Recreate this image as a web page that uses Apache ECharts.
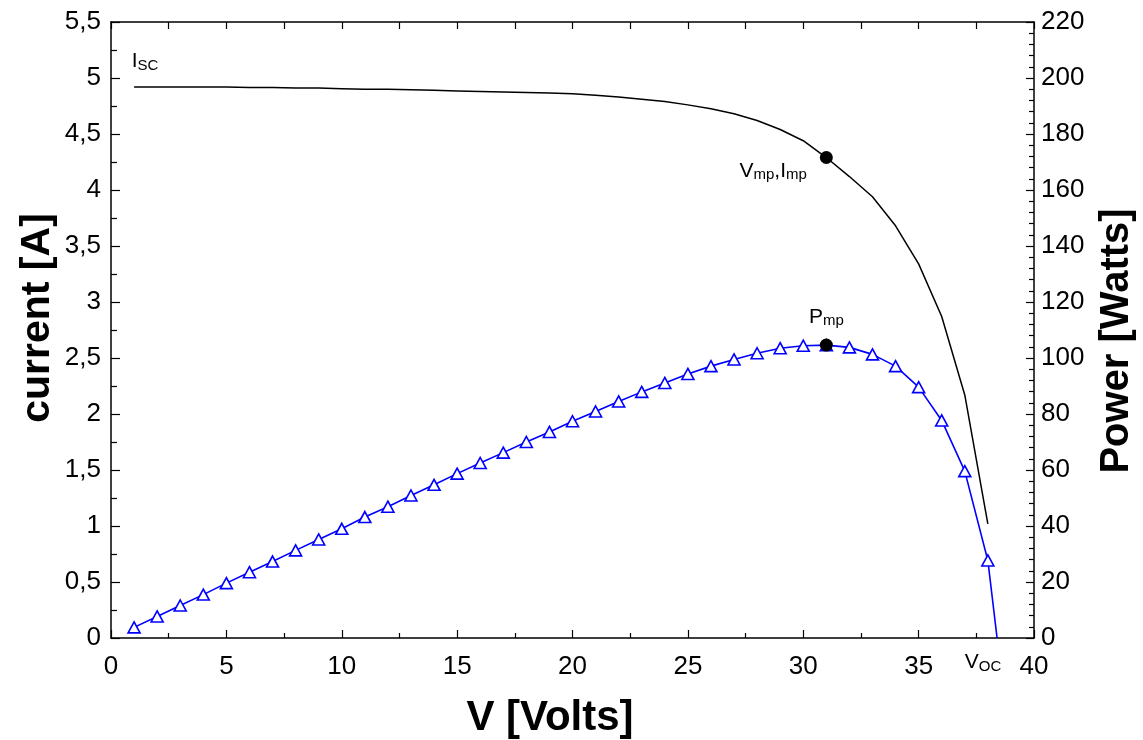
<!DOCTYPE html>
<html>
<head>
<meta charset="utf-8">
<title>I-V and P-V characteristic</title>
<script src="https://cdn.jsdelivr.net/npm/echarts@6/dist/echarts.min.js"></script>
<style>
  html, body { margin: 0; padding: 0; background: #fff; }
  #chart { width: 1143px; height: 740px; }
</style>
</head>
<body>
<div id="chart"></div>
<script>
// Module voltage samples [V]
const voltage = [1, 2, 3, 4, 5, 6, 7, 8, 9, 10, 11, 12, 13, 14, 15, 16, 17, 18, 19,
  20, 21, 22, 23, 24, 25, 26, 27, 28, 29, 30, 31, 32, 33, 34, 35, 36, 37, 38];

// Module current [A] at each voltage sample
const current = [4.92, 4.92, 4.92, 4.92, 4.92, 4.915, 4.915, 4.91, 4.91, 4.905,
  4.90, 4.90, 4.895, 4.89, 4.885, 4.88, 4.875, 4.87, 4.865, 4.86,
  4.845, 4.83, 4.81, 4.79, 4.76, 4.725, 4.68, 4.62, 4.54, 4.44,
  4.29, 4.12, 3.94, 3.68, 3.34, 2.87, 2.17, 1.02];

// Output power [W] at each voltage sample
const power = [3.8, 7.7, 11.6, 15.5, 19.6, 23.5, 27.3, 31.3, 35.2, 39.0,
  43.2, 46.9, 50.9, 54.7, 58.7, 62.5, 66.2, 70.0, 73.6, 77.4,
  80.9, 84.5, 87.9, 91.1, 94.3, 97.1, 99.5, 101.7, 103.5, 104.4,
  104.6, 103.8, 101.3, 97.1, 89.6, 77.7, 59.6, 27.7];

// Open-circuit voltage (power falls to zero)
const vOC = 38.4;
// Maximum power point
const vMP = 31;
const iMP = 4.29;
const pMP = 104.6;
// Short-circuit current marker
const iSC = 4.92;

// Axis tick values
const xTicks = { min: 0, max: 40, step: 5 };
const yLeftTicks = { min: 0, max: 5.5, step: 0.5 };
const yRightTicks = { min: 0, max: 220, step: 20 };

const FONT = '"Liberation Sans", Arial, Helvetica, sans-serif';

const powerData = voltage.map((v, i) => [v, power[i]]);
powerData.push({ value: [vOC, 0], symbol: 'none' });

const currentData = voltage.map((v, i) => [v, current[i]]);

const richSub = {
  m: { fontFamily: FONT, fontSize: 21, color: '#000', opacity: 1, lineHeight: 22, verticalAlign: 'top' },
  s: { fontFamily: FONT, fontSize: 15, color: '#000', opacity: 1, lineHeight: 15, padding: [10, 0, 0, 0], verticalAlign: 'bottom' }
};

const chart = echarts.init(document.getElementById('chart'), null, { renderer: 'canvas' });

const axisLineStyle = { color: '#000', width: 1.5 };

chart.setOption({
  animation: false,
  backgroundColor: '#fff',
  grid: { left: 111, right: 109, top: 22, bottom: 102, containLabel: false },
  xAxis: [
    {
      type: 'value', position: 'bottom',
      min: xTicks.min, max: xTicks.max, interval: xTicks.step,
      axisLine: { show: true, onZero: false, lineStyle: axisLineStyle },
      axisTick: { show: true, inside: true, length: 8, lineStyle: { color: '#000', width: 1.2 } },
      minorTick: { show: true, splitNumber: 2, length: 5, lineStyle: { color: '#000', width: 1.2 } },
      axisLabel: { color: '#000', fontFamily: FONT, fontSize: 26, margin: 16 },
      splitLine: { show: false }
    },
    {
      type: 'value', position: 'top',
      min: xTicks.min, max: xTicks.max, interval: xTicks.step / 2,
      axisLine: { show: true, onZero: false, lineStyle: axisLineStyle },
      axisTick: { show: true, inside: true, length: 7, lineStyle: { color: '#000', width: 1.2 } },
      axisLabel: { show: false },
      splitLine: { show: false }
    }
  ],
  yAxis: [
    {
      type: 'value', position: 'left',
      min: yLeftTicks.min, max: yLeftTicks.max, interval: yLeftTicks.step,
      axisLine: { show: true, onZero: false, lineStyle: axisLineStyle },
      axisTick: { show: true, inside: true, length: 9, lineStyle: { color: '#000', width: 1.2 } },
      minorTick: { show: true, splitNumber: 2, length: 6, lineStyle: { color: '#000', width: 1.2 } },
      axisLabel: {
        color: '#000', fontFamily: FONT, fontSize: 26, margin: 10,
        formatter: v => String(Math.round(v * 10) / 10).replace('.', ',')
      },
      splitLine: { show: false }
    },
    {
      type: 'value', position: 'right',
      min: yRightTicks.min, max: yRightTicks.max, interval: yRightTicks.step,
      axisLine: { show: true, onZero: false, lineStyle: axisLineStyle },
      axisTick: { show: true, inside: true, length: 8, lineStyle: { color: '#000', width: 1.2 } },
      minorTick: { show: true, splitNumber: 5, length: 5, lineStyle: { color: '#000', width: 1.2 } },
      axisLabel: { color: '#000', fontFamily: FONT, fontSize: 26, margin: 7 },
      splitLine: { show: false }
    }
  ],
  series: [
    {
      name: 'current',
      type: 'line',
      xAxisIndex: 0, yAxisIndex: 0,
      data: currentData,
      showSymbol: false,
      lineStyle: { color: '#000', width: 1.5 },
      z: 2
    },
    {
      name: 'power',
      type: 'line',
      xAxisIndex: 0, yAxisIndex: 1,
      data: powerData,
      symbol: 'triangle',
      symbolSize: [12, 11],
      itemStyle: { color: '#fff', borderColor: '#0000ff', borderWidth: 1.6 },
      lineStyle: { color: '#0000ff', width: 1.6 },
      z: 3
    },
    {
      name: 'mpp-current',
      type: 'scatter',
      xAxisIndex: 0, yAxisIndex: 0,
      data: [[vMP, iMP]],
      symbol: 'circle',
      symbolSize: 13,
      itemStyle: { color: '#000', opacity: 1 },
      label: {
        show: true, position: 'left', distance: 13, offset: [0, 14], opacity: 1,
        formatter: '{m|V}{s|mp}{m|,I}{s|mp}', rich: richSub
      },
      z: 5
    },
    {
      name: 'mpp-power',
      type: 'scatter',
      xAxisIndex: 0, yAxisIndex: 1,
      data: [[vMP, pMP]],
      symbol: 'circle',
      symbolSize: 13,
      itemStyle: { color: '#000', opacity: 1 },
      label: {
        show: true, position: 'top', distance: 10, opacity: 1,
        formatter: '{m|P}{s|mp}', rich: richSub
      },
      z: 5
    },
    {
      name: 'markers',
      type: 'scatter',
      xAxisIndex: 0, yAxisIndex: 0,
      symbolSize: 2,
      itemStyle: { color: 'rgba(0,0,0,0)', opacity: 1 },
      data: [
        {
          value: [voltage[0], iSC],
          label: { show: true, position: 'inside', offset: [11, -25], opacity: 1, formatter: '{m|I}{s|SC}', rich: richSub }
        },
        {
          value: [vOC, 0],
          label: { show: true, position: 'inside', offset: [-14, 25], opacity: 1, formatter: '{m|V}{s|OC}', rich: richSub }
        }
      ],
      z: 5
    }
  ],
  graphic: [
    {
      type: 'text', x: 38, y: 318, rotation: Math.PI / 2,
      style: { text: 'current [A]', fontFamily: FONT, fontSize: 41, fontWeight: 'bold', fill: '#000', align: 'center', verticalAlign: 'middle' }
    },
    {
      type: 'text', x: 1117, y: 341, rotation: Math.PI / 2,
      style: { text: 'Power [Watts]', fontFamily: FONT, fontSize: 40, fontWeight: 'bold', fill: '#000', align: 'center', verticalAlign: 'middle' }
    },
    {
      type: 'text', x: 550, y: 718,
      style: { text: 'V [Volts]', fontFamily: FONT, fontSize: 42, fontWeight: 'bold', fill: '#000', align: 'center', verticalAlign: 'middle' }
    }
  ]
});
</script>
</body>
</html>
